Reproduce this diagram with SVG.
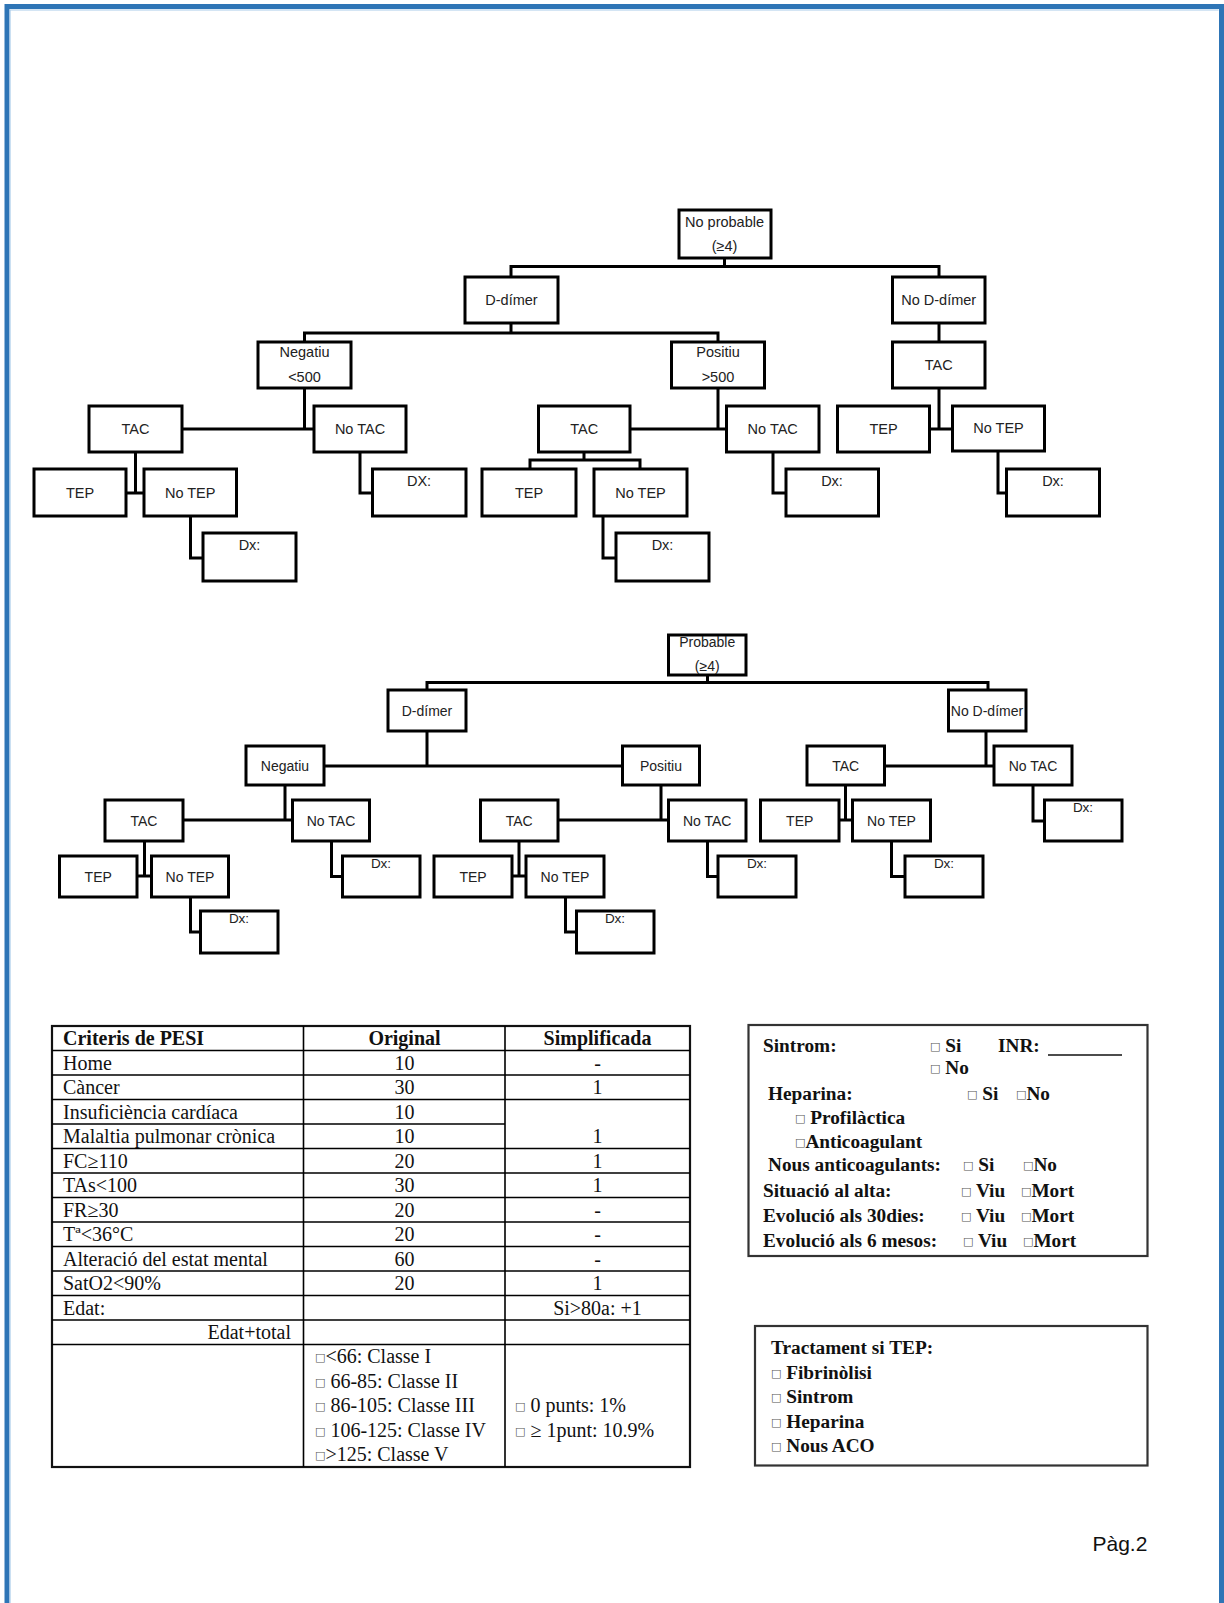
<svg xmlns="http://www.w3.org/2000/svg" width="1224" height="1603" viewBox="0 0 1224 1603">
<style>
.bg{fill:#fff}
.frame{fill:none;stroke:#2E75B6;stroke-width:5}
.frame2{fill:none;stroke:#A9CBEA;stroke-width:1.2}
.box{fill:#fff;stroke:#000;stroke-width:3}
.ln{fill:none;stroke:#000;stroke-width:3}
.t{font-family:"Liberation Sans",Arial,sans-serif;font-size:14.5px;fill:#222;text-anchor:middle}
.s{font-family:"Liberation Sans",Arial,sans-serif;font-size:14px;fill:#222;text-anchor:middle}
.dx{font-family:"Liberation Sans",Arial,sans-serif;font-size:13.5px;fill:#222;text-anchor:middle}
.tb{fill:none;stroke:#000;stroke-width:1.6}
.tbo{fill:none;stroke:#111;stroke-width:2.2}
.tt{font-family:"Liberation Serif","Times New Roman",serif;font-size:20px;fill:#111}
.th{font-family:"Liberation Serif","Times New Roman",serif;font-size:20px;font-weight:bold;fill:#111}
.c{text-anchor:middle}
.r{text-anchor:end}
.rb{font-family:"Liberation Serif","Times New Roman",serif;font-size:19.3px;font-weight:bold;fill:#111}
.cb{font-family:"DejaVu Sans",sans-serif;font-size:11px;font-weight:normal;fill:#555;baseline-shift:2px}
.pg{font-family:"Liberation Sans",Arial,sans-serif;font-size:21px;fill:#111}
</style>
<rect class="bg" x="0" y="0" width="1224" height="1603"/>
<path class="frame" d="M7,1603 V6.5 H1221.5 V1603"/>
<path class="frame2" d="M10,1603 V10 H1218.6"/>

<!-- ===== Tree 1 connectors ===== -->
<g id="connectors-tree1">
<path class="ln" d="M724.5,258 V266.5 M511,277 V266.5 H939 V277"/>
<path class="ln" d="M511,323 V333 M304.5,342 V333 H718 V342"/>
<path class="ln" d="M939,323 V342"/>
<path class="ln" d="M304.5,388 V429 M182,429 H314"/>
<path class="ln" d="M718,388 V429 M630,429 H726.5"/>
<path class="ln" d="M939,388 V429 M929.5,429 H952.5"/>
<path class="ln" d="M135.5,452 V493 M126,493 H144"/>
<path class="ln" d="M360,452 V493 H372.5"/>
<path class="ln" d="M584,452 V460 M530,469 V460 H640 V469"/>
<path class="ln" d="M773,452 V493 H786"/>
<path class="ln" d="M998,451 V493 H1006.5"/>
<path class="ln" d="M190.5,516 V558 H203"/>
<path class="ln" d="M603,516 V558 H616"/>
</g>

<!-- ===== Tree 1 nodes ===== -->
<g id="t1-noprobable"><rect class="box" x="679" y="210" width="92" height="48"/><text class="t" x="724.5" y="226.5">No probable</text><text class="t" x="724.5" y="251">(≥4)</text></g>
<g id="t1-ddimer"><rect class="box" x="465" y="277" width="93" height="46"/><text class="t" x="511.5" y="305">D-dímer</text></g>
<g id="t1-noddimer"><rect class="box" x="892.5" y="277" width="92.5" height="46"/><text class="t" x="938.7" y="305">No D-dímer</text></g>
<g id="t1-negatiu"><rect class="box" x="258" y="342" width="93" height="46"/><text class="t" x="304.5" y="357">Negatiu</text><text class="t" x="304.5" y="382">&lt;500</text></g>
<g id="t1-positiu"><rect class="box" x="671.5" y="342" width="93" height="46"/><text class="t" x="718" y="357">Positiu</text><text class="t" x="718" y="382">&gt;500</text></g>
<g id="t1-tac-r"><rect class="box" x="892.5" y="342" width="92.5" height="46"/><text class="t" x="938.7" y="370">TAC</text></g>
<g id="t1-tac-l"><rect class="box" x="89" y="406" width="93" height="46"/><text class="t" x="135.5" y="434">TAC</text></g>
<g id="t1-notac-l"><rect class="box" x="314" y="406" width="92" height="46"/><text class="t" x="360" y="434">No TAC</text></g>
<g id="t1-tac-m"><rect class="box" x="538.5" y="406" width="91.5" height="46"/><text class="t" x="584.2" y="434">TAC</text></g>
<g id="t1-notac-m"><rect class="box" x="726.5" y="406" width="92.5" height="46"/><text class="t" x="772.7" y="434">No TAC</text></g>
<g id="t1-tep-r"><rect class="box" x="837.5" y="406" width="92" height="46"/><text class="t" x="883.5" y="434">TEP</text></g>
<g id="t1-notep-r"><rect class="box" x="952.5" y="406" width="92" height="45"/><text class="t" x="998.5" y="433">No TEP</text></g>
<g id="t1-tep-l"><rect class="box" x="34" y="469" width="92" height="47"/><text class="t" x="80" y="497.5">TEP</text></g>
<g id="t1-notep-l"><rect class="box" x="144" y="469" width="92.5" height="47"/><text class="t" x="190.2" y="497.5">No TEP</text></g>
<g id="t1-dx-notac-l"><rect class="box" x="372.5" y="469" width="93.5" height="47"/><text class="t" x="419" y="486">DX:</text></g>
<g id="t1-tep-m"><rect class="box" x="482" y="469" width="94" height="47"/><text class="t" x="529" y="497.5">TEP</text></g>
<g id="t1-notep-m"><rect class="box" x="594" y="469" width="93" height="47"/><text class="t" x="640.5" y="497.5">No TEP</text></g>
<g id="t1-dx-notac-m"><rect class="box" x="786" y="469" width="92.5" height="47"/><text class="t" x="832" y="486">Dx:</text></g>
<g id="t1-dx-notep-r"><rect class="box" x="1006.5" y="469" width="93" height="47"/><text class="t" x="1053" y="486">Dx:</text></g>
<g id="t1-dx-notep-l"><rect class="box" x="203" y="533" width="93" height="48"/><text class="t" x="249.5" y="550">Dx:</text></g>
<g id="t1-dx-notep-m"><rect class="box" x="616" y="533" width="93" height="48"/><text class="t" x="662.5" y="550">Dx:</text></g>

<!-- ===== Tree 2 connectors ===== -->
<g id="connectors-tree2">
<path class="ln" d="M707.5,675 V682.5 M427,690 V682.5 H988 V690"/>
<path class="ln" d="M427,731 V766 M324,766 H622.5"/>
<path class="ln" d="M986,731 V766 M884.5,766 H994"/>
<path class="ln" d="M285,785 V820 M183,820 H292.5"/>
<path class="ln" d="M661,785 V820 M558,820 H668.5"/>
<path class="ln" d="M845.5,785 V820 M839,820 H852.5"/>
<path class="ln" d="M1033,785 V821 H1044.5"/>
<path class="ln" d="M144.5,841 V876 M137,876 H151.5"/>
<path class="ln" d="M331.5,841 V876.5 H342.5"/>
<path class="ln" d="M519,841 V876 M512,876 H526"/>
<path class="ln" d="M707.5,841 V876.5 H718"/>
<path class="ln" d="M891.5,841 V876.5 H905"/>
<path class="ln" d="M190.5,897 V932 H200.5"/>
<path class="ln" d="M565.5,897 V932 H576.5"/>
</g>

<!-- ===== Tree 2 nodes ===== -->
<g id="t2-probable"><rect class="box" x="668.5" y="635" width="77.5" height="40"/><text class="s" x="707.2" y="646.5">Probable</text><text class="s" x="707.2" y="670.5">(≥4)</text></g>
<g id="t2-ddimer"><rect class="box" x="388" y="690" width="78" height="41"/><text class="s" x="427" y="715.5">D-dímer</text></g>
<g id="t2-noddimer"><rect class="box" x="948.5" y="690" width="77.5" height="41"/><text class="s" x="987" y="715.5">No D-dímer</text></g>
<g id="t2-negatiu"><rect class="box" x="246" y="746" width="78" height="39"/><text class="s" x="285" y="770.5">Negatiu</text></g>
<g id="t2-positiu"><rect class="box" x="622.5" y="746" width="77" height="39"/><text class="s" x="661" y="770.5">Positiu</text></g>
<g id="t2-tac-r"><rect class="box" x="807" y="746" width="77.5" height="39"/><text class="s" x="845.7" y="770.5">TAC</text></g>
<g id="t2-notac-r"><rect class="box" x="994" y="746" width="78" height="39"/><text class="s" x="1033" y="770.5">No TAC</text></g>
<g id="t2-tac-l"><rect class="box" x="105" y="800" width="78" height="41"/><text class="s" x="144" y="825.5">TAC</text></g>
<g id="t2-notac-l"><rect class="box" x="292.5" y="800" width="77" height="41"/><text class="s" x="331" y="825.5">No TAC</text></g>
<g id="t2-tac-m"><rect class="box" x="480.5" y="800" width="77.5" height="41"/><text class="s" x="519.2" y="825.5">TAC</text></g>
<g id="t2-notac-m"><rect class="box" x="668.5" y="800" width="77.5" height="41"/><text class="s" x="707.2" y="825.5">No TAC</text></g>
<g id="t2-tep-r"><rect class="box" x="760.5" y="800" width="78.5" height="41"/><text class="s" x="799.7" y="825.5">TEP</text></g>
<g id="t2-notep-r"><rect class="box" x="852.5" y="800" width="78" height="41"/><text class="s" x="891.5" y="825.5">No TEP</text></g>
<g id="t2-dx-notac-r"><rect class="box" x="1044.5" y="800" width="77.5" height="41"/><text class="dx" x="1083" y="812">Dx:</text></g>
<g id="t2-tep-l"><rect class="box" x="59.5" y="856" width="77.5" height="41"/><text class="s" x="98.2" y="881.5">TEP</text></g>
<g id="t2-notep-l"><rect class="box" x="151.5" y="856" width="77" height="41"/><text class="s" x="190" y="881.5">No TEP</text></g>
<g id="t2-dx-notac-l"><rect class="box" x="342.5" y="856" width="77.5" height="41"/><text class="dx" x="381" y="868">Dx:</text></g>
<g id="t2-tep-m"><rect class="box" x="434" y="856" width="78" height="41"/><text class="s" x="473" y="881.5">TEP</text></g>
<g id="t2-notep-m"><rect class="box" x="526" y="856" width="78" height="41"/><text class="s" x="565" y="881.5">No TEP</text></g>
<g id="t2-dx-notac-m"><rect class="box" x="718" y="856" width="78" height="41"/><text class="dx" x="757" y="868">Dx:</text></g>
<g id="t2-dx-notep-r"><rect class="box" x="905" y="856" width="78" height="41"/><text class="dx" x="944" y="868">Dx:</text></g>
<g id="t2-dx-notep-l"><rect class="box" x="200.5" y="911" width="77.5" height="42"/><text class="dx" x="239" y="923">Dx:</text></g>
<g id="t2-dx-notep-m"><rect class="box" x="576.5" y="911" width="77.5" height="42"/><text class="dx" x="615" y="923">Dx:</text></g>

<!-- ===== PESI table ===== -->
<g id="pesi-table">
<rect class="tbo" x="52" y="1026" width="638" height="441"/>
<path class="tb" d="M303.5,1026 V1467 M505,1026 V1467"/>
<path class="tb" d="M52,1050.5 H690 M52,1075 H690 M52,1099.5 H690 M52,1124 H505 M52,1148.5 H690 M52,1173 H690 M52,1197.5 H690 M52,1222 H690 M52,1246.5 H690 M52,1271 H690 M52,1295.5 H690 M52,1320 H690 M52,1344.5 H690"/>
<text class="th" x="63" y="1045">Criteris de PESI</text>
<text class="th c" x="404.5" y="1045">Original</text>
<text class="th c" x="597.5" y="1045">Simplificada</text>
<text class="tt" x="63" y="1069.5">Home</text><text class="tt c" x="404.5" y="1069.5">10</text><text class="tt c" x="597.5" y="1069.5">-</text>
<text class="tt" x="63" y="1094">Càncer</text><text class="tt c" x="404.5" y="1094">30</text><text class="tt c" x="597.5" y="1094">1</text>
<text class="tt" x="63" y="1118.5">Insuficiència cardíaca</text><text class="tt c" x="404.5" y="1118.5">10</text>
<text class="tt" x="63" y="1143">Malaltia pulmonar crònica</text><text class="tt c" x="404.5" y="1143">10</text><text class="tt c" x="597.5" y="1143">1</text>
<text class="tt" x="63" y="1167.5">FC≥110</text><text class="tt c" x="404.5" y="1167.5">20</text><text class="tt c" x="597.5" y="1167.5">1</text>
<text class="tt" x="63" y="1192">TAs&lt;100</text><text class="tt c" x="404.5" y="1192">30</text><text class="tt c" x="597.5" y="1192">1</text>
<text class="tt" x="63" y="1216.5">FR≥30</text><text class="tt c" x="404.5" y="1216.5">20</text><text class="tt c" x="597.5" y="1216.5">-</text>
<text class="tt" x="63" y="1241">Tª&lt;36°C</text><text class="tt c" x="404.5" y="1241">20</text><text class="tt c" x="597.5" y="1241">-</text>
<text class="tt" x="63" y="1265.5">Alteració del estat mental</text><text class="tt c" x="404.5" y="1265.5">60</text><text class="tt c" x="597.5" y="1265.5">-</text>
<text class="tt" x="63" y="1290">SatO2&lt;90%</text><text class="tt c" x="404.5" y="1290">20</text><text class="tt c" x="597.5" y="1290">1</text>
<text class="tt" x="63" y="1314.5">Edat:</text><text class="tt c" x="597.5" y="1314.5">Si&gt;80a: +1</text>
<text class="tt r" x="291" y="1339">Edat+total</text>
<text class="tt" x="315" y="1363"><tspan class="cb">□</tspan>&lt;66: Classe I</text>
<text class="tt" x="315" y="1387.5"><tspan class="cb">□</tspan> 66-85: Classe II</text>
<text class="tt" x="315" y="1412"><tspan class="cb">□</tspan> 86-105: Classe III</text>
<text class="tt" x="315" y="1436.5"><tspan class="cb">□</tspan> 106-125: Classe IV</text>
<text class="tt" x="315" y="1461"><tspan class="cb">□</tspan>&gt;125: Classe V</text>
<text class="tt" x="515" y="1412"><tspan class="cb">□</tspan> 0 punts: 1%</text>
<text class="tt" x="515" y="1436.5"><tspan class="cb">□</tspan> ≥ 1punt: 10.9%</text>
</g>

<!-- ===== Sintrom box ===== -->
<g id="sintrom-box">
<rect class="tbo" x="748.5" y="1025" width="399" height="231" style="stroke:#333"/>
<text class="rb" x="763" y="1051.5">Sintrom:</text>
<text class="rb" x="930" y="1051.5"><tspan class="cb">□</tspan> Si</text>
<text class="rb" x="998" y="1051.5">INR:</text>
<path d="M1048,1055 H1122" stroke="#111" stroke-width="1.3"/>
<text class="rb" x="930" y="1074"><tspan class="cb">□</tspan> No</text>
<text class="rb" x="768" y="1099.5">Heparina:</text>
<text class="rb" x="967" y="1099.5"><tspan class="cb">□</tspan> Si</text>
<text class="rb" x="1016" y="1099.5"><tspan class="cb">□</tspan>No</text>
<text class="rb" x="795" y="1123.5"><tspan class="cb">□</tspan> Profilàctica</text>
<text class="rb" x="795" y="1147.5"><tspan class="cb">□</tspan>Anticoagulant</text>
<text class="rb" x="768" y="1171">Nous anticoagulants:</text>
<text class="rb" x="963" y="1171"><tspan class="cb">□</tspan> Si</text>
<text class="rb" x="1023" y="1171"><tspan class="cb">□</tspan>No</text>
<text class="rb" x="763" y="1197">Situació al alta:</text>
<text class="rb" x="961" y="1197"><tspan class="cb">□</tspan> Viu</text>
<text class="rb" x="1021" y="1197"><tspan class="cb">□</tspan>Mort</text>
<text class="rb" x="763" y="1222">Evolució als 30dies:</text>
<text class="rb" x="961" y="1222"><tspan class="cb">□</tspan> Viu</text>
<text class="rb" x="1021" y="1222"><tspan class="cb">□</tspan>Mort</text>
<text class="rb" x="763" y="1246.5">Evolució als 6 mesos:</text>
<text class="rb" x="963" y="1246.5"><tspan class="cb">□</tspan> Viu</text>
<text class="rb" x="1023" y="1246.5"><tspan class="cb">□</tspan>Mort</text>
</g>

<!-- ===== Tractament box ===== -->
<g id="tractament-box">
<rect class="tbo" x="755" y="1326" width="392.5" height="139.5" style="stroke:#333"/>
<text class="rb" x="771" y="1353.5">Tractament si TEP:</text>
<text class="rb" x="771" y="1378.5"><tspan class="cb">□</tspan> Fibrinòlisi</text>
<text class="rb" x="771" y="1403"><tspan class="cb">□</tspan> Sintrom</text>
<text class="rb" x="771" y="1428"><tspan class="cb">□</tspan> Heparina</text>
<text class="rb" x="771" y="1452"><tspan class="cb">□</tspan> Nous ACO</text>
</g>

<text class="pg" x="1092.5" y="1551">Pàg.2</text>
</svg>
